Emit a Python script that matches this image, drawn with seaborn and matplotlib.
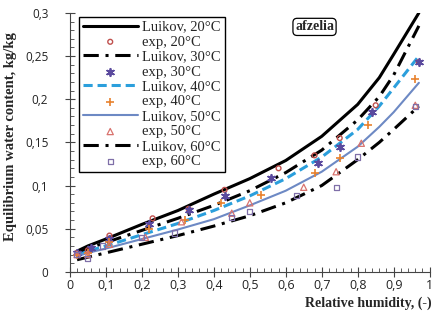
import numpy as np
import pandas as pd
import matplotlib
matplotlib.use("Agg")
import matplotlib.pyplot as plt
import matplotlib.ticker as ticker
import seaborn as sns

# model curves (Luikov)
rh_model = [0.02, 0.05, 0.1, 0.2, 0.3, 0.4, 0.5, 0.6, 0.7, 0.8, 0.86, 0.9, 0.97]
luikov_20 = [0.024, 0.030, 0.038, 0.055, 0.071, 0.090, 0.108, 0.129, 0.157, 0.194, 0.225, 0.252, 0.300]
luikov_30 = [0.021, 0.027, 0.034, 0.048, 0.062, 0.077, 0.094, 0.115, 0.141, 0.176, 0.203, 0.228, 0.285]
luikov_40 = [0.019, 0.024, 0.030, 0.043, 0.056, 0.071, 0.088, 0.108, 0.133, 0.165, 0.192, 0.213, 0.250]
luikov_50 = [0.018, 0.022, 0.027, 0.038, 0.049, 0.061, 0.077, 0.094, 0.116, 0.145, 0.168, 0.185, 0.219]
luikov_60 = [0.014, 0.017, 0.022, 0.032, 0.042, 0.053, 0.065, 0.080, 0.100, 0.130, 0.150, 0.165, 0.192]

# experimental points
rh_20 = [0.02, 0.05, 0.11, 0.23, 0.33, 0.43, 0.58, 0.68, 0.75, 0.85, 0.97]
exp_20 = [0.022, 0.025, 0.042, 0.062, 0.073, 0.095, 0.120, 0.135, 0.155, 0.193, 0.243]
rh_30 = [0.02, 0.06, 0.11, 0.22, 0.33, 0.43, 0.56, 0.69, 0.75, 0.84, 0.97]
exp_30 = [0.022, 0.028, 0.038, 0.055, 0.072, 0.088, 0.109, 0.126, 0.145, 0.185, 0.243]
rh_40 = [0.02, 0.05, 0.11, 0.22, 0.32, 0.42, 0.53, 0.68, 0.75, 0.83, 0.96]
exp_40 = [0.020, 0.022, 0.035, 0.050, 0.060, 0.080, 0.089, 0.115, 0.132, 0.170, 0.224]
rh_50 = [0.02, 0.05, 0.11, 0.21, 0.31, 0.45, 0.50, 0.65, 0.74, 0.81, 0.96]
exp_50 = [0.020, 0.020, 0.032, 0.040, 0.058, 0.068, 0.080, 0.098, 0.116, 0.149, 0.193]
rh_60 = [0.02, 0.05, 0.09, 0.20, 0.29, 0.45, 0.50, 0.63, 0.74, 0.80, 0.96]
exp_60 = [0.020, 0.015, 0.030, 0.040, 0.045, 0.063, 0.070, 0.088, 0.098, 0.133, 0.192]

temps = ["20", "30", "40", "50", "60"]

dashdot = (0, (5, 2.2, 1, 2.2))
line_styles = {
    "20": dict(color="black", lw=2.2, ls="-"),
    "30": dict(color="black", lw=2.2, ls=dashdot),
    "40": dict(color="#2b9fdc", lw=2.2, ls=(0, (3, 1.6))),
    "50": dict(color="#6d89c4", lw=1.5, ls="-"),
    "60": dict(color="black", lw=2.2, ls=dashdot),
}
marker_styles = {
    "20": dict(marker="o", s=12, facecolor="none", edgecolor="#c0504d", linewidth=1.0),
    "30": dict(marker=(6, 2, 0), s=28, color="#5b4a9e", linewidth=1.3),
    "40": dict(marker="+", s=34, color="#e8822e", linewidth=1.2),
    "50": dict(marker="^", s=20, facecolor="none", edgecolor="#d9736e", linewidth=0.9),
    "60": dict(marker="s", s=14, facecolor="none", edgecolor="#7f6fa8", linewidth=0.9),
}

model = {"20": luikov_20, "30": luikov_30, "40": luikov_40, "50": luikov_50, "60": luikov_60}
exp_x = {"20": rh_20, "30": rh_30, "40": rh_40, "50": rh_50, "60": rh_60}
exp_y = {"20": exp_20, "30": exp_30, "40": exp_40, "50": exp_50, "60": exp_60}

sns.set_style("ticks")
plt.rcParams['font.family'] = ['Liberation Serif', 'DejaVu Serif']

fig = plt.figure(figsize=(4.34, 3.15), dpi=100)
ax = fig.add_axes([0.161, 0.137, 0.829, 0.822])

for t in temps:
    st = line_styles[t]
    sns.lineplot(x=rh_model, y=model[t], ax=ax, color=st["color"], lw=st["lw"],
                 linestyle=st["ls"], label=f"Luikov, {t}\u00b0C", sort=False)
    sns.scatterplot(x=exp_x[t], y=exp_y[t], ax=ax, label=f"exp, {t}\u00b0C",
                    zorder=3, **marker_styles[t])

ax.set_xlim(0, 1.0)
ax.set_ylim(0, 0.3)
ax.xaxis.set_major_locator(ticker.MultipleLocator(0.1))
ax.xaxis.set_minor_locator(ticker.MultipleLocator(0.02))
ax.yaxis.set_major_locator(ticker.MultipleLocator(0.05))
ax.yaxis.set_minor_locator(ticker.MultipleLocator(0.01))

def comma_fmt(v, pos):
    s = f"{v:.2f}".rstrip("0").rstrip(".")
    return s.replace(".", ",")

ax.xaxis.set_major_formatter(ticker.FuncFormatter(comma_fmt))
ax.yaxis.set_major_formatter(ticker.FuncFormatter(comma_fmt))

for sp in ["top", "right"]:
    ax.spines[sp].set_visible(False)
for sp in ["left", "bottom"]:
    ax.spines[sp].set_linewidth(0.8)
    ax.spines[sp].set_color("#444444")

ax.tick_params(which="major", direction="inout", length=7, width=0.8, colors="#444444",
               labelcolor="#222222")
ax.tick_params(which="minor", direction="in", length=3, width=0.6, colors="#444444")
ax.tick_params(axis="y", labelsize=8.5, pad=12)
ax.tick_params(axis="x", labelsize=9, pad=2)
for lab in ax.get_xticklabels() + ax.get_yticklabels():
    lab.set_family("Open Sans")

ax.set_xlabel("")
ax.set_ylabel("")
fig.text(0.995, 0.038, "Relative humidity, (-)", ha="right", va="center",
         fontsize=10, fontweight="bold")
fig.text(0.024, 0.565, "Equilibrium water content, kg/kg", ha="center", va="center",
         rotation=90, fontsize=10.5, fontweight="bold")

ax.text(0.68, 0.946, "afzelia", transform=ax.transAxes, ha="center", va="center",
        fontsize=10, fontweight="bold",
        bbox=dict(boxstyle="round,pad=0.15,rounding_size=0.3", fc="white", ec="black", lw=0.9))

leg = ax.legend(loc="upper left", bbox_to_anchor=(0.025, 0.985), fontsize=10.5,
                frameon=True, fancybox=False, edgecolor="black", framealpha=1,
                handlelength=3.8, handletextpad=0.3, labelspacing=0.12,
                borderpad=0.25, borderaxespad=0.0, markerscale=1.0)
leg.get_frame().set_linewidth(1.0)

fig.savefig("out.png", dpi=100)
